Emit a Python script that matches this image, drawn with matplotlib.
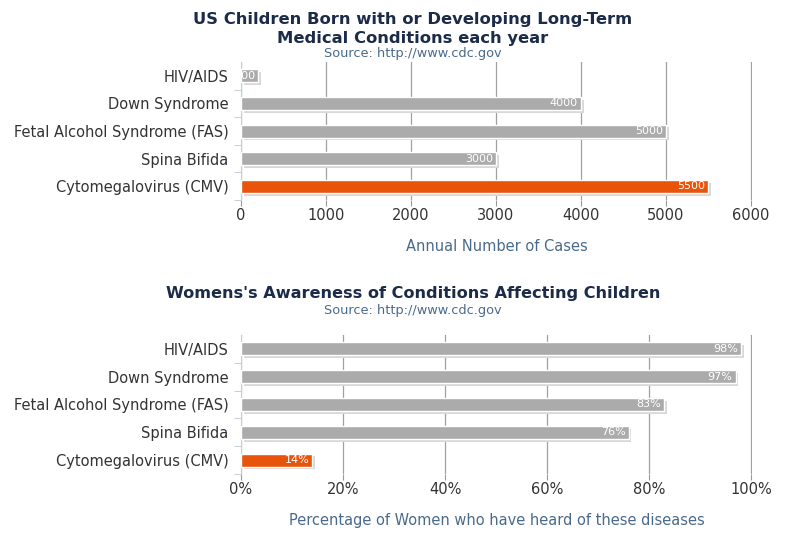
import matplotlib.pyplot as plt
import matplotlib.patheffects as pe

categories = ["HIV/AIDS", "Down Syndrome", "Fetal Alcohol Syndrome (FAS)",
              "Spina Bifida", "Cytomegalovirus (CMV)"]
cases = [200, 4000, 5000, 3000, 5500]
awareness = [98, 97, 83, 76, 14]
case_ticks = [0, 1000, 2000, 3000, 4000, 5000, 6000]
pct_ticks = [0, 20, 40, 60, 80, 100]

GRAY = "#ababab"
ORANGE = "#e8540a"
TITLE = "#1b2b48"
SUB = "#4a6a8c"
TXT = "#333333"


def draw(ax, values, xmax, ticks, ticklabels, labelfmt, xlabel):
    ypos = list(range(len(categories)))[::-1]
    colors = [GRAY] * (len(values) - 1) + [ORANGE]
    bars = ax.barh(ypos, values, height=0.47, color=colors, edgecolor="white",
                   linewidth=1.0, zorder=3)
    for b in bars:
        b.set_path_effects([pe.SimplePatchShadow(offset=(2, -2), shadow_rgbFace="#d8d8d8", alpha=1),
                            pe.Normal()])
    for y, v in zip(ypos, values):
        ax.text(v - xmax * 0.006, y, labelfmt(v), color="white", fontsize=8,
                ha="right", va="center", zorder=4, clip_on=True)
    ax.set_xlim(0, xmax * 1.002)
    ax.set_ylim(-0.5, len(categories) - 0.5)
    ax.set_yticks(ypos)
    ax.set_yticklabels(categories, fontsize=10.5, color=TXT)
    ax.tick_params(axis="y", length=0, pad=9)
    ax.set_yticks([y + 0.5 for y in ypos[1:]] + [-0.5], minor=True)
    ax.tick_params(axis="y", which="minor", length=5, color="#b8c8d8")
    ax.set_xticks(ticks)
    ax.set_xticklabels(ticklabels, fontsize=10.5, color=TXT)
    ax.tick_params(axis="x", length=4, color="#999999", pad=2)
    ax.grid(axis="x", color="#a0a0a0", linewidth=0.9, zorder=0)
    for s in ["top", "right", "bottom"]:
        ax.spines[s].set_visible(False)
    ax.spines["left"].set_color("#c0d0e0")
    ax.set_xlabel(xlabel, color=SUB, fontsize=10.5, labelpad=11)


fig = plt.figure(figsize=(7.91, 5.35), dpi=100)
ax1 = fig.add_axes([0.3047, 0.626, 0.646, 0.258])
ax2 = fig.add_axes([0.3047, 0.114, 0.646, 0.26])

draw(ax1, cases, 6000, case_ticks, [str(t) for t in case_ticks],
     lambda v: str(v), "Annual Number of Cases")
draw(ax2, awareness, 100, pct_ticks, [f"{t}%" for t in pct_ticks],
     lambda v: f"{v}%", "Percentage of Women who have heard of these diseases")

fig.text(0.522, 0.977, "US Children Born with or Developing Long-Term\nMedical Conditions each year",
         ha="center", va="top", fontsize=11.8, fontweight="bold", color=TITLE, linespacing=1.28)
fig.text(0.522, 0.9, "Source: http://www.cdc.gov", ha="center", va="center",
         fontsize=9.3, color=SUB)
fig.text(0.522, 0.452, "Womens's Awareness of Conditions Affecting Children",
         ha="center", va="center", fontsize=11.6, fontweight="bold", color=TITLE)
fig.text(0.522, 0.42, "Source: http://www.cdc.gov", ha="center", va="center",
         fontsize=9.3, color=SUB)

fig.savefig("out.png", dpi=100)
